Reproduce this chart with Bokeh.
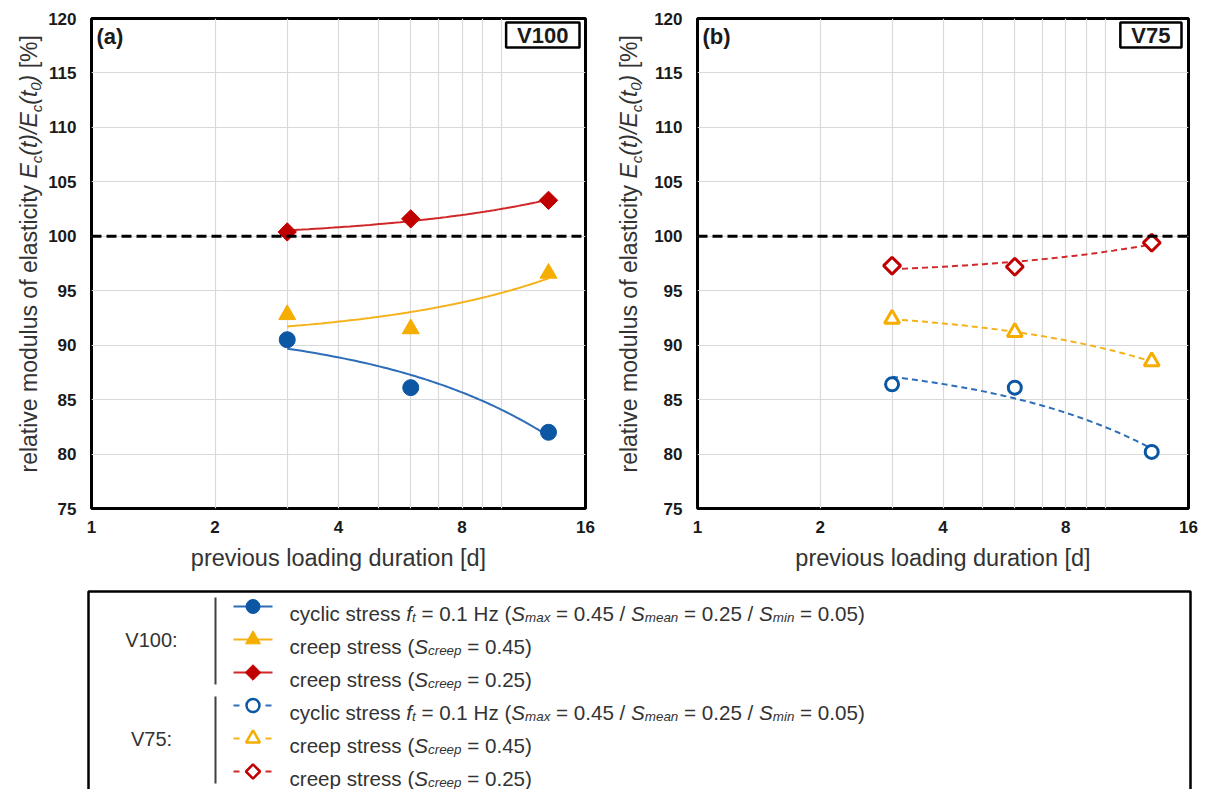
import numpy as np
from bokeh.plotting import figure
from bokeh.models import (Range1d, FixedTicker, BasicTickFormatter, Span, Label,
                          ColumnDataSource)
from bokeh.layouts import column, row
from bokeh.embed import file_html
from bokeh.resources import INLINE
from bokeh.core.properties import value

# ---------------- data ----------------
durations = [3, 6, 13]                 # previous loading duration [d]
v100_cyclic = [90.5, 86.1, 82.0]
v100_creep45 = [92.8, 91.5, 96.6]
v100_creep25 = [100.4, 101.6, 103.3]
v75_cyclic = [86.4, 86.1, 80.2]
v75_creep45 = [92.4, 91.2, 88.5]
v75_creep25 = [97.3, 97.2, 99.4]
reference_level = 100
x_ticks = [1, 2, 4, 8, 16]
x_grid = [2, 3, 4, 5, 6, 7, 8, 9, 10]
y_ticks = [75, 80, 85, 90, 95, 100, 105, 110, 115, 120]

BLUE, BLUE_L = "#0B57A4", "#2E6DB8"
ORANGE, ORANGE_L = "#F5AD00", "#F5B21A"
RED, RED_L = "#C00000", "#D0282A"
FONT = "Liberation Sans"
TXT = "#333333"
NB = "\u00a0"

# Arial / Liberation Sans advance widths (1/1000 em)
W = {' ': 278, NB: 278, '!': 278, '%': 889, '(': 333, ')': 333, '/': 278, '.': 278,
     ':': 278, '=': 584, '[': 278, ']': 278, '-': 333}
for ch in "0123456789":
    W[ch] = 556
for ch, w in zip("abcdefghijklmnopqrstuvwxyz",
                 [556, 556, 500, 556, 556, 278, 556, 556, 222, 222, 500, 222, 833, 556, 556,
                  556, 556, 333, 500, 278, 556, 500, 722, 500, 500, 500]):
    W[ch] = w
for ch, w in zip("ABCDEFGHIJKLMNOPQRSTUVWXYZ",
                 [667, 667, 722, 722, 667, 611, 778, 722, 278, 500, 667, 556, 833, 722, 778,
                  667, 778, 722, 667, 611, 722, 667, 944, 667, 667, 611]):
    W[ch] = w


def tw(s, size):
    return sum(W.get(c, 556) for c in s) / 1000.0 * size


def layout_rich(parts, size, sub_ratio=0.65):
    """returns list of (text, offset_along, width, sub_flag, fontsize, style)"""
    out, cur = [], 0.0
    for txt, kind in parts:
        fs = size * sub_ratio if kind == "s" else size
        style = "normal" if kind == "n" else "italic"
        txt = txt.replace(" ", NB)
        w = tw(txt, fs)
        out.append((txt, cur, w, kind == "s", fs, style))
        cur += w
    return out


ylabel_parts = [("relative modulus of elasticity ", "n"), ("E", "i"), ("c", "s"),
                ("(t)/", "i"), ("E", "i"), ("c", "s"), ("(t", "i"), ("0", "s"),
                (")", "i"), (" [%]", "n")]

H = 588
TOP, BOTTOM = 18, 80          # borders around the plot frames
FRAME_H = H - TOP - BOTTOM     # 490
YLAB_W = 45
YL_SIZE = 23


def make_ylabel(base_x):
    """rotated rich-text y-axis title; base_x = x of the text baseline in this strip"""
    f = figure(width=YLAB_W, height=H, output_backend="svg", toolbar_location=None,
               x_axis_location=None, y_axis_location=None,
               x_range=Range1d(0, YLAB_W), y_range=Range1d(0, FRAME_H),
               min_border_left=0, min_border_right=0, min_border_top=TOP,
               min_border_bottom=BOTTOM)
    f.grid.visible = False
    f.outline_line_color = None
    f.background_fill_color = "white"
    f.border_fill_color = "white"
    xs, ys, tt, fsz, sty = [], [], [], [], []
    start = (H - BOTTOM) - 472  # text starts 472 px below the top, reading upwards
    for txt, off, w, sub, fs, style in layout_rich(ylabel_parts, YL_SIZE):
        mid = 0.3465 * fs  # middle of the em-box above the baseline
        bx = base_x + (5 if sub else 0)
        xs.append(bx - mid)
        ys.append(start + off + 0.5 * w)
        tt.append(txt)
        fsz.append(f"{fs:.1f}px")
        sty.append(style)
    src = ColumnDataSource(dict(x=xs, y=ys, text=tt, size=fsz, style=sty))
    f.text(x="x", y="y", text="text", source=src, angle=np.pi / 2,
           text_font=value(FONT), text_font_size="size", text_font_style="style",
           text_color=TXT, text_align="center", text_baseline="middle")
    return f


def make_panel(series, tag, name, left_border, right_border, width):
    p = figure(width=width, height=H, x_axis_type="log", output_backend="svg",
               toolbar_location=None, x_range=Range1d(1, 16), y_range=Range1d(75, 120),
               min_border_left=left_border, min_border_right=right_border,
               min_border_top=TOP, min_border_bottom=BOTTOM)
    p.background_fill_color = "white"
    p.border_fill_color = "white"
    p.outline_line_color = "black"
    p.outline_line_width = 3
    p.xaxis.ticker = FixedTicker(ticks=x_ticks)
    p.xaxis.formatter = BasicTickFormatter()
    p.yaxis.ticker = FixedTicker(ticks=y_ticks)
    p.xgrid.ticker = FixedTicker(ticks=x_grid)
    p.ygrid.ticker = FixedTicker(ticks=y_ticks)
    p.grid.grid_line_color = "#D9D9D9"
    p.grid.grid_line_width = 1.2
    for ax in (p.xaxis, p.yaxis):
        ax.axis_line_color = None
        ax.major_tick_line_color = None
        ax.minor_tick_line_color = None
        ax.major_tick_out = 0
        ax.major_tick_in = 0
        ax.minor_tick_out = 0
        ax.minor_tick_in = 0
        ax.major_label_text_font = FONT
        ax.major_label_text_font_style = "bold"
        ax.major_label_text_font_size = "17px"
        ax.major_label_text_color = "#1a1a1a"
    p.yaxis.major_label_standoff = 15
    p.xaxis.major_label_standoff = 12
    p.xaxis.axis_label = "previous loading duration [d]"
    p.xaxis.axis_label_text_font = FONT
    p.xaxis.axis_label_text_font_style = "normal"
    p.xaxis.axis_label_text_font_size = "23.5px"
    p.xaxis.axis_label_text_color = TXT
    p.xaxis.axis_label_standoff = 9

    p.add_layout(Span(location=reference_level, dimension="width", line_color="black",
                      line_width=3, line_dash="10 5"))

    for ys, color, lcolor, marker, filled, dashed, size in series:
        k, d = np.polyfit(durations, ys, 1)
        xs = np.linspace(min(durations), max(durations), 80)
        p.line(xs, k * xs + d, line_color=lcolor, line_width=2,
               line_dash="6 4" if dashed else "solid")
        angle = np.pi / 4 if marker == "square" else 0
        if filled:
            p.scatter(durations, ys, marker=marker, size=size, fill_color=color,
                      line_color=color, angle=angle)
        else:
            p.scatter(durations, ys, marker=marker, size=size, fill_color="white",
                      line_color=color, line_width=3, angle=angle)

    p.add_layout(Label(x=5, y=485, x_units="screen", y_units="screen", text=tag,
                       text_font=FONT, text_font_style="bold", text_font_size="22px",
                       text_baseline="top", text_color="#1a1a1a"))
    fw = width - left_border - right_border
    p.add_layout(Label(x=fw - 7, y=486, x_units="screen", y_units="screen", text=name,
                       text_font=FONT, text_font_style="bold", text_font_size="22px",
                       text_align="right", text_baseline="top", text_color="#1a1a1a",
                       border_line_color="black", border_line_width=2.5,
                       background_fill_color="white",
                       padding=dict(left=11, right=11, top=0, bottom=0)))
    return p


left_series = [
    (v100_cyclic, BLUE, BLUE_L, "circle", True, False, 16),
    (v100_creep45, ORANGE, ORANGE_L, "triangle", True, False, 17),
    (v100_creep25, RED, RED_L, "square", True, False, 13),
]
right_series = [
    (v75_cyclic, BLUE, BLUE_L, "circle", False, True, 13),
    (v75_creep45, ORANGE, ORANGE_L, "triangle", False, True, 15),
    (v75_creep25, RED, RED_L, "square", False, True, 12),
]

yl1 = make_ylabel(36)
p1 = make_panel(left_series, "(a)", "V100", 90 - YLAB_W, 21, 606 - YLAB_W)
yl2 = make_ylabel(30)
p2 = make_panel(right_series, "(b)", "V75", 91 - YLAB_W, 24, 606 - YLAB_W)

# ---------------- legend ----------------
LH = 201
pl = figure(width=1212, height=LH, output_backend="svg", toolbar_location=None,
            x_axis_location=None, y_axis_location=None,
            x_range=Range1d(0, 1212), y_range=Range1d(LH, 0),
            min_border=0, min_border_left=0, min_border_right=0,
            min_border_top=0, min_border_bottom=0)
pl.grid.visible = False
pl.outline_line_color = None
pl.background_fill_color = "white"
pl.border_fill_color = "white"

box_l, box_r, box_t = 88, 1190, 3
pl.quad(left=[box_l], right=[box_r], top=[box_t], bottom=[LH + 20], fill_color="white",
        line_color="black", line_width=2.5)

row_y = [18, 51, 84, 117, 150, 183]
cyc_parts = [("cyclic stress ", "n"), ("f", "i"), ("t", "s"), (" = 0.1 Hz (", "n"),
             ("S", "i"), ("max", "s"), (" = 0.45 / ", "n"), ("S", "i"), ("mean", "s"),
             (" = 0.25 / ", "n"), ("S", "i"), ("min", "s"), (" = 0.05)", "n")]
c45_parts = [("creep stress (", "n"), ("S", "i"), ("creep", "s"), (" = 0.45)", "n")]
c25_parts = [("creep stress (", "n"), ("S", "i"), ("creep", "s"), (" = 0.25)", "n")]
legend_rows = [(cyc_parts, left_series[0]), (c45_parts, left_series[1]),
               (c25_parts, left_series[2]), (cyc_parts, right_series[0]),
               (c45_parts, right_series[1]), (c25_parts, right_series[2])]

tx, ty, tt, tf, ts = [], [], [], [], []
for (parts, ser), yc in zip(legend_rows, row_y):
    ys, color, lcolor, marker, filled, dashed, size = ser
    pl.line([233, 272], [yc, yc], line_color=lcolor, line_width=2,
            line_dash="6 10" if dashed else "solid")
    angle = np.pi / 4 if marker == "square" else 0
    msize = {"circle": 14, "triangle": 15, "square": 11}[marker]
    if not filled:
        msize -= 1
    pl.scatter([252.5], [yc], marker=marker, size=msize,
               fill_color=color if filled else "white", line_color=color,
               line_width=1 if filled else 2.5, angle=angle)
    for txt, off, w, sub, fs, style in layout_rich(parts, 20.6):
        tx.append(289 + off)
        ty.append(yc + 7 + (4 if sub else 0))
        tt.append(txt)
        tf.append(f"{fs:.1f}px")
        ts.append(style)
src = ColumnDataSource(dict(x=tx, y=ty, text=tt, size=tf, style=ts))
pl.text(x="x", y="y", text="text", source=src, text_font=value(FONT),
        text_font_size="size", text_font_style="style", text_color=TXT,
        text_baseline="alphabetic", text_align="left")

groups = [("V100:", row_y[0], row_y[2]), ("V75:", row_y[3], row_y[5])]
for name, y0, y1 in groups:
    pl.segment(x0=[215], y0=[y0 - 9], x1=[215], y1=[y1 + 12], line_color="#404040",
               line_width=2)
    pl.text(x=[151], y=[(y0 + y1) / 2], text=[name], text_font=value(FONT),
            text_font_size="20px", text_color=TXT, text_align="center",
            text_baseline="middle")

layout = column(row(yl1, p1, yl2, p2), pl)
open("out.html", "w").write(file_html(layout, INLINE))
